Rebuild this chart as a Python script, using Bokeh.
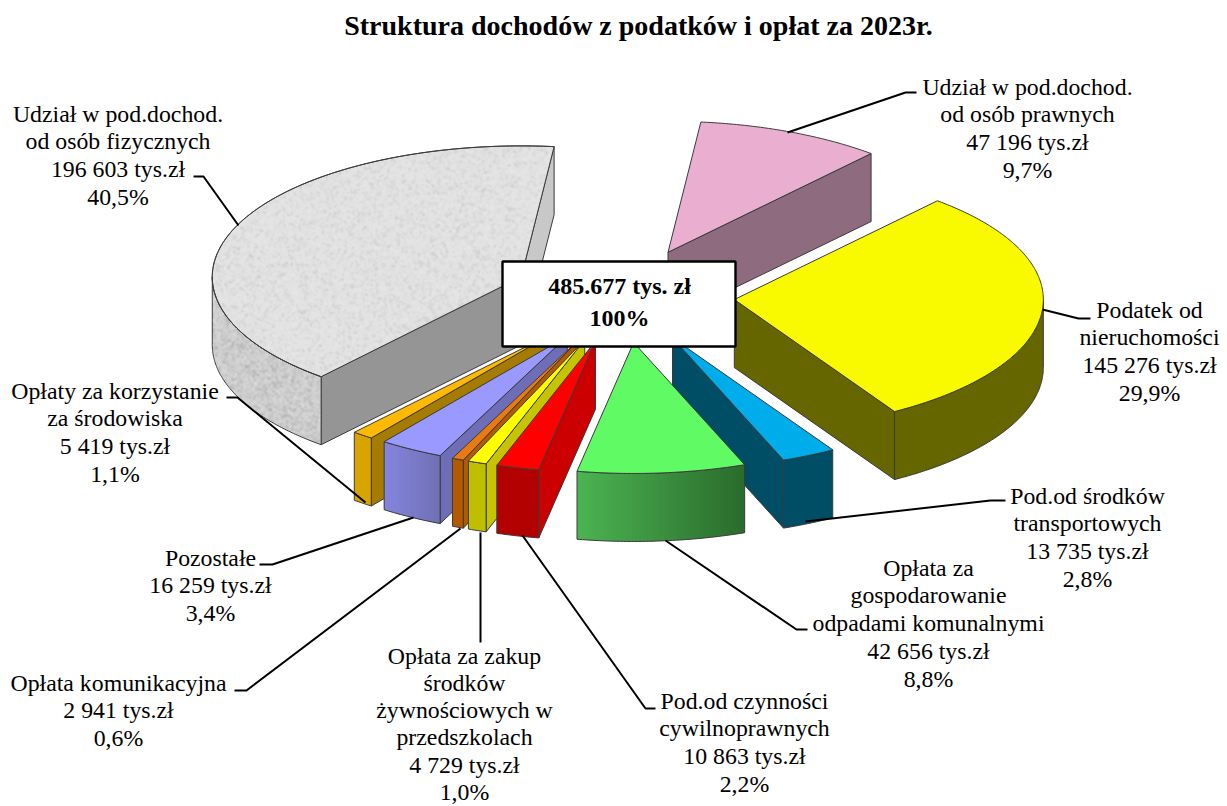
import numpy as np
from bokeh.plotting import figure
from bokeh.embed import file_html
from bokeh.resources import INLINE
from bokeh.core.properties import value

# ---------- data ----------
names = ["Udział w pod.dochod. od osób prawnych", "Podatek od nieruchomości",
         "Pod.od środków transportowych", "Opłata za gospodarowanie odpadami komunalnymi",
         "Pod.od czynności cywilnoprawnych", "Opłata za zakup środków żywnościowych w przedszkolach",
         "Opłata komunikacyjna", "Pozostałe", "Opłaty za korzystanie za środowiska",
         "Udział w pod.dochod. od osób fizycznych"]
values = [47196, 145276, 13735, 42656, 10863, 4729, 2941, 16259, 5419, 196603]

title = "Struktura dochodów z podatków i opłat za 2023r."
centre_lines = ["485.677 tys. zł", "100%"]

labels = [
    ["Udział w pod.dochod.", "od osób prawnych", "47 196 tys.zł", "9,7%"],
    ["Podatek od", "nieruchomości", "145 276 tys.zł", "29,9%"],
    ["Pod.od środków", "transportowych", "13 735 tys.zł", "2,8%"],
    ["Opłata za", "gospodarowanie", "odpadami komunalnymi", "42 656 tys.zł", "8,8%"],
    ["Pod.od czynności", "cywilnoprawnych", "10 863 tys.zł", "2,2%"],
    ["Opłata za zakup", "środków", "żywnościowych w", "przedszkolach", "4 729 tys.zł", "1,0%"],
    ["Opłata komunikacyjna", "2 941 tys.zł", "0,6%"],
    ["Pozostałe", "16 259 tys.zł", "3,4%"],
    ["Opłaty za korzystanie", "za środowiska", "5 419 tys.zł", "1,1%"],
    ["Udział w pod.dochod.", "od osób fizycznych", "196 603 tys.zł", "40,5%"],
]

# ---------- styling / layout ----------
label_cx = [1027, 1149, 1087, 928, 744, 464, 118, 210, 114.5, 117.5]
label_y0 = [86, 309, 495, 567, 700, 655, 682, 557, 390, 113]
label_dy = [27.9, 27.9, 27.9, 27.9, 27.9, 27.3, 27.9, 27.9, 27.9, 27.9]

top_col = ["#E9AED0", "#F9F900", "#00ADEB", "#5FFA64", "#FF0000", "#FFFF00", "#E87A10", "#9999FF", "#FFB900", "#E2E2E2"]
wall_l = ["#8F6B80", "#666600", "#004D66", "#4CB452", "#B30000", "#BFBF00", "#B35900", "#8585DE", "#D9A300", "#CECECE"]
wall_r = ["#8F6B80", "#666600", "#004D66", "#2A6B2C", "#B30000", "#BFBF00", "#B35900", "#7070B5", "#D9A300", "#CECECE"]
face_s = ["#8F6B80", "#666600", "#004D66", "#2A6B2C", "#CC0000", "#C4C400", "#B35900", "#6E6EB8", "#A67C00", "#959595"]
face_e = ["#8F6B80", "#666600", "#004D66", "#2A6B2C", "#CC0000", "#C4C400", "#B35900", "#6E6EB8", "#A67C00", "#C8C8C8"]
draw_order = [9, 8, 7, 6, 5, 4, 0, 1, 2, 3]

# leader polylines (screen px): knee at the label, then to the slice
leaders = [
    ([916, 905, 787], [92, 92, 132]),
    ([1090, 1078, 1042], [318, 318, 309]),
    ([1005, 990, 805], [500, 500, 521]),
    ([807, 796, 665], [629, 629, 540]),
    ([655, 645, 522], [708, 708, 535]),
    ([480, 480], [642, 532]),
    ([234, 246, 460], [690, 690, 528]),
    ([259, 272, 413], [564, 564, 517]),
    ([226, 237, 365], [397, 397, 502]),
    ([193, 203, 238], [176, 176, 225]),
]

CX, CY = 623, 295      # pie centre, screen px
A, B = 309, 131        # ellipse semi-axes
DEPTH = 68
EXPLODE = 0.36
START = 6.1            # first slice boundary, degrees clockwise from up

W, H = 1227, 806
p = figure(width=W, height=H, x_range=(0, W), y_range=(0, H),
           output_backend="svg", toolbar_location=None, min_border=0,
           outline_line_color=None, background_fill_color="white", border_fill_color="white")
p.axis.visible = False
p.grid.visible = False


def Y(y):
    return H - np.asarray(y, dtype=float)


def hexrgb(h):
    return np.array([int(h[i:i + 2], 16) for i in (1, 3, 5)], dtype=float)


def mix(c1, c2, t):
    c = hexrgb(c1) * (1 - t) + hexrgb(c2) * t
    return "#%02x%02x%02x" % tuple(int(round(v)) for v in c)


EDGE = "#3a3a3a"
total = sum(values)
sweeps = [v / total * 360 for v in values]
starts = [START + sum(sweeps[:i]) for i in range(len(values))]


def geometry(i):
    a0 = starts[i]
    a1 = a0 + sweeps[i]
    mid = np.radians((a0 + a1) / 2)
    tx = CX + EXPLODE * A * np.sin(mid)
    ty = CY - EXPLODE * B * np.cos(mid)
    n = max(6, int(sweeps[i] * 2))
    ang = np.radians(np.linspace(a0, a1, n))
    return tx, ty, tx + A * np.sin(ang), ty - B * np.cos(ang)


def wall(xs, ys, fill):
    xx = list(xs) + list(xs[::-1])
    yy = list(ys) + [v + DEPTH for v in ys[::-1]]
    p.patch(xx, Y(yy), fill_color=fill, line_color=EDGE, line_width=1)


def draw_slice(i):
    tx, ty, ax, ay = geometry(i)
    # polygon runs clockwise on screen, so walls with dx<0 face the viewer
    if ax[0] < tx:
        wall([tx, ax[0]], [ty, ay[0]], face_s[i])
    if tx < ax[-1]:
        wall([ax[-1], tx], [ay[-1], ty], face_e[i])
    vis = np.where(np.diff(ax) < 0)[0]
    if len(vis):
        sel = np.r_[vis, vis[-1] + 1]
        sx, sy = ax[sel], ay[sel]
        if wall_l[i] != wall_r[i]:
            # colour bands, each reaching under the next one so no seam shows
            lo, hi = sx.min(), sx.max()
            n = 48
            edges = np.linspace(hi, lo, n + 1)
            order = np.argsort(sx)
            for k in range(n):
                x0, x1 = edges[k], max(lo, edges[k + 1] - 1.0)
                xs_band = np.array([x0, x1])
                ytop = np.interp(xs_band, sx[order], sy[order])
                col = mix(wall_l[i], wall_r[i], ((x0 + x1) / 2 - lo) / (hi - lo))
                p.patch([x0, x1, x1, x0], Y([ytop[0], ytop[1], ytop[1] + DEPTH, ytop[0] + DEPTH]),
                        fill_color=col, line_color=None)
            p.patch(list(sx) + list(sx[::-1]), Y(list(sy) + list(sy[::-1] + DEPTH)),
                    fill_color=None, line_color=EDGE, line_width=1)
        else:
            p.patch(list(sx) + list(sx[::-1]), Y(list(sy) + list(sy[::-1] + DEPTH)),
                    fill_color=wall_l[i], line_color=EDGE, line_width=1)
    p.patch([tx] + list(ax), Y([ty] + list(ay)), fill_color=top_col[i], line_color=EDGE, line_width=1)


def stone_texture(i):
    """Fine stone grain over the large slice, top and curved wall."""
    tx, ty, ax, ay = geometry(i)
    x0, x1 = int(ax.min()) - 2, int(ax.max()) + 2
    y0, y1 = int(ay.min()) - 2, int(ay.max() + DEPTH) + 2
    gx, gy = np.meshgrid(np.arange(x0, x1) + 0.5, np.arange(y0, y1) + 0.5)
    h = np.sin(gx * 12.9898 + gy * 78.233) * 43758.5453
    h = h - np.floor(h)
    h = sum(np.roll(np.roll(h, a, 0), b, 1) for a in (-1, 0, 1) for b in (-1, 0, 1)) / 9
    n = (h - h.mean()) / h.std()
    u, v = (gx - tx) / A, (gy - ty) / B
    ang = (np.degrees(np.arctan2(u, -v)) - starts[i]) % 360
    top = (u ** 2 + v ** 2 < 0.985) & (ang > 0.4) & (ang < sweeps[i] - 0.4)
    arc = ty + B * np.sqrt(np.clip(1 - u ** 2, 0, 1))
    side = (gx < ax[0] - 1) & (gy > arc + 1) & (gy < arc + DEPTH - 1) & (np.abs(u) < 1)
    alpha = np.zeros_like(n)
    alpha[top] = np.abs(n[top]) * 14
    alpha[side] = np.abs(n[side]) * 24
    shade = np.where(n > 0, 255, 110)
    img = np.zeros(n.shape, dtype=np.uint32)
    view = img.view(dtype=np.uint8).reshape((*n.shape, 4))
    view[..., 0] = view[..., 1] = view[..., 2] = shade
    view[..., 3] = np.clip(alpha, 0, 255)
    p.image_rgba(image=[img[::-1]], x=x0, y=H - y1, dw=x1 - x0, dh=y1 - y0)
    p.line(list(ax), Y(ay), line_color=EDGE, line_width=1)


# ---------- marks ----------
for i in draw_order:
    draw_slice(i)
    if i == 9:
        stone_texture(i)

for lx, ly in leaders:
    p.line(lx, Y(ly), line_color="black", line_width=2)

# centre box
p.quad(left=502, right=735, top=Y(261), bottom=Y(346), fill_color="white", line_color="black", line_width=2.4)
for s, yy in zip(centre_lines, [285, 317]):
    p.text([619], Y([yy]), text=[s], text_font=value("Liberation Serif"), text_font_style="bold",
           text_font_size="24px", text_align="center", text_baseline="middle", text_color="black")

# title
p.text([638], Y([25]), text=[title], text_font=value("Liberation Serif"), text_font_style="bold",
       text_font_size="28px", text_align="center", text_baseline="middle", text_color="black")

# labels
for lines, cx, y0, dy in zip(labels, label_cx, label_y0, label_dy):
    ys = [y0 + k * dy for k in range(len(lines))]
    p.text([cx] * len(lines), Y(ys), text=lines, text_font=value("Liberation Serif"),
           text_font_size="23.8px", text_align="center", text_baseline="middle", text_color="black")

open("out.html", "w").write(file_html(p, INLINE))
